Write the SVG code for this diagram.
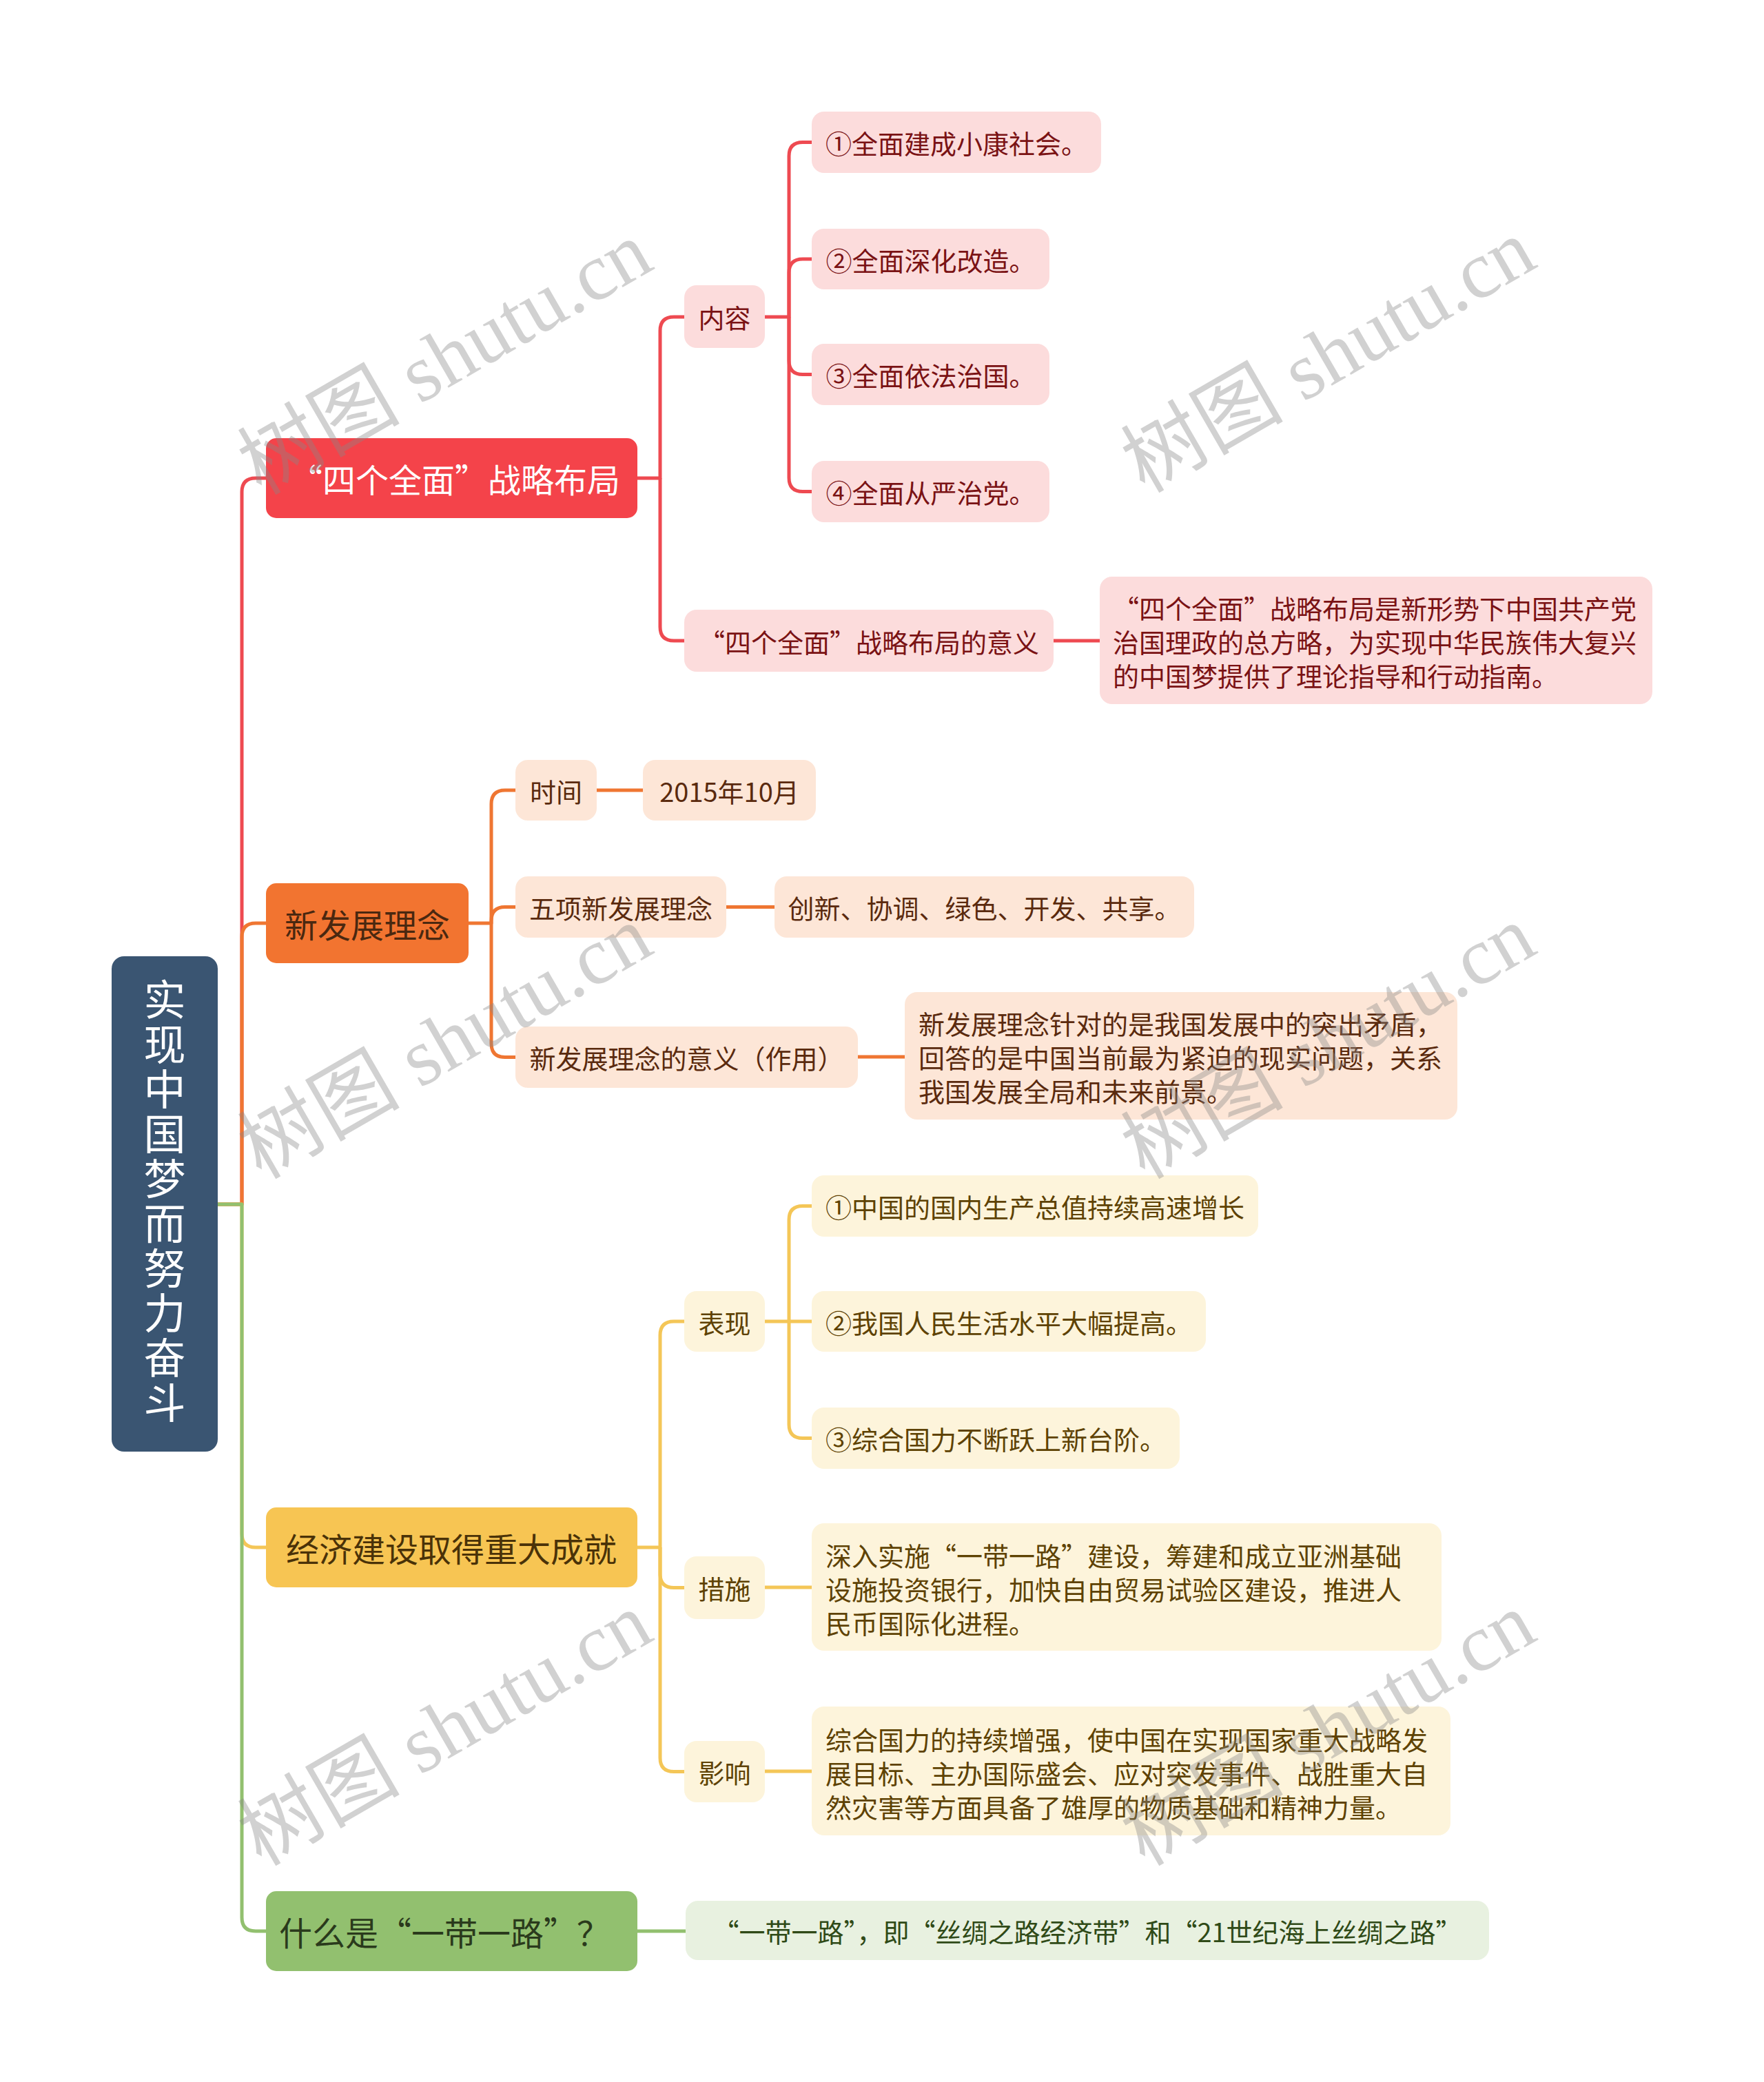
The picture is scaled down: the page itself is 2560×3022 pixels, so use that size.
<svg xmlns="http://www.w3.org/2000/svg" width="2560" height="3022" viewBox="0 0 2560 3022">
<style>
text{font-family:"Noto Sans CJK SC","Noto Sans",sans-serif;dominant-baseline:central}
.c{fill:none;stroke-width:5;stroke-linejoin:round}
.r{stroke:#ee4a51}.o{stroke:#ef7632}.y{stroke:#f4c657}.g{stroke:#92c06f}
.m{font-size:48px;text-anchor:middle}
.s{font-size:38px;text-anchor:middle}
.l{font-size:38px}
.rt{fill:#7a1214}.ot{fill:#5a2a0e}.yt{fill:#5e4203}.gt{fill:#2f4a17}
.rb{fill:#fcdcdc}.ob{fill:#fde6d7}.yb{fill:#fdf4db}.gb{fill:#e8f1e0}
.wm{font-family:"Liberation Serif","Noto Sans CJK SC",serif;font-size:118px;fill:#888;opacity:0.38;text-anchor:middle}
</style>
<rect width="2560" height="3022" fill="#ffffff"/>
<g id="connectors">
<path class="c r" d="M316,1748 H351 V714 Q351,694 371,694 H386"/>
<path class="c o" d="M316,1748 H351 V1360 Q351,1340 371,1340 H386"/>
<path class="c y" d="M316,1748 H351 V2226 Q351,2246 371,2246 H386"/>
<path class="c g" d="M316,1748 H351 V2783 Q351,2803 371,2803 H386"/>
<path class="c r" d="M925,694 H958 V480 Q958,460 978,460 H993"/>
<path class="c r" d="M958,694 V910 Q958,930 978,930 H993"/>
<path class="c r" d="M1110,460 H1145 V226.5 Q1145,206.5 1165,206.5 H1178"/>
<path class="c r" d="M1145,460 V396 Q1145,376 1165,376 H1178"/>
<path class="c r" d="M1145,460 V523.5 Q1145,543.5 1165,543.5 H1178"/>
<path class="c r" d="M1145,460 V693.5 Q1145,713.5 1165,713.5 H1178"/>
<path class="c r" d="M1529,930 H1596"/>
<path class="c o" d="M680,1340 H713 V1167 Q713,1147 733,1147 H748"/>
<path class="c o" d="M713,1340 V1336.5 Q713,1316.5 733,1316.5 H748"/>
<path class="c o" d="M713,1340 V1514.5 Q713,1534.5 733,1534.5 H748"/>
<path class="c o" d="M866,1147 H933"/>
<path class="c o" d="M1054,1316.5 H1124"/>
<path class="c o" d="M1245,1534 H1313"/>
<path class="c y" d="M925,2246 H958 V1938 Q958,1918 978,1918 H993"/>
<path class="c y" d="M958,2246 V2284.5 Q958,2304.5 978,2304.5 H993"/>
<path class="c y" d="M958,2246 V2551.5 Q958,2571.5 978,2571.5 H993"/>
<path class="c y" d="M1110,1918 H1145 V1770.5 Q1145,1750.5 1165,1750.5 H1178"/>
<path class="c y" d="M1145,1918 H1178"/>
<path class="c y" d="M1145,1918 V2067.5 Q1145,2087.5 1165,2087.5 H1178"/>
<path class="c y" d="M1110,2304 H1178"/>
<path class="c y" d="M1110,2571 H1178"/>
<path class="c g" d="M925,2803 H995"/>
</g>
<g id="root">
<rect x="162" y="1388" width="154" height="719" rx="18" fill="#3a5572"/>
<text x="239" y="1745" style="writing-mode:vertical-rl;text-anchor:middle;font-size:61px;letter-spacing:4px;fill:#ffffff">实现中国梦而努力奋斗</text>
</g>
<g id="n1">
<rect x="386" y="636" width="539" height="116" rx="15" fill="#f4434a"/>
<text class="m" x="660" y="694" fill="#ffffff">“四个全面”战略布局</text>
</g>
<g id="n1-1"><rect class="rb" x="993" y="414" width="117" height="91" rx="18"/><text class="s rt" x="1051.5" y="459.5">内容</text></g>
<g id="n1-1-1"><rect class="rb" x="1178" y="162" width="420" height="89" rx="18"/><text class="s rt" x="1388" y="206.5">①全面建成小康社会。</text></g>
<g id="n1-1-2"><rect class="rb" x="1178" y="332" width="345" height="88" rx="18"/><text class="s rt" x="1350.5" y="376">②全面深化改造。</text></g>
<g id="n1-1-3"><rect class="rb" x="1178" y="499" width="345" height="89" rx="18"/><text class="s rt" x="1350.5" y="543.5">③全面依法治国。</text></g>
<g id="n1-1-4"><rect class="rb" x="1178" y="669" width="345" height="89" rx="18"/><text class="s rt" x="1350.5" y="713.5">④全面从严治党。</text></g>
<g id="n1-2"><rect class="rb" x="993" y="885" width="536" height="90" rx="18"/><text class="s rt" x="1261" y="930">“四个全面”战略布局的意义</text></g>
<g id="n1-2-1"><rect class="rb" x="1596" y="837" width="802" height="185" rx="18"/>
<text class="l rt"><tspan x="1615" y="881">“四个全面”战略布局是新形势下中国共产党</tspan><tspan x="1615" y="930">治国理政的总方略，为实现中华民族伟大复兴</tspan><tspan x="1615" y="979">的中国梦提供了理论指导和行动指南。</tspan></text></g>
<g id="n2">
<rect x="386" y="1282" width="294" height="116" rx="15" fill="#f27430"/>
<text class="m" x="533" y="1340" fill="#4a2810">新发展理念</text>
</g>
<g id="n2-1"><rect class="ob" x="748" y="1103" width="118" height="88" rx="18"/><text class="s ot" x="807" y="1147">时间</text></g>
<g id="n2-1-1"><rect class="ob" x="933" y="1103" width="251" height="88" rx="18"/><text class="s ot" x="1058.5" y="1147">2015年10月</text></g>
<g id="n2-2"><rect class="ob" x="748" y="1272" width="306" height="89" rx="18"/><text class="s ot" x="901" y="1316.5">五项新发展理念</text></g>
<g id="n2-2-1"><rect class="ob" x="1124" y="1272" width="609" height="89" rx="18"/><text class="s ot" x="1428.5" y="1316.5">创新、协调、绿色、开发、共享。</text></g>
<g id="n2-3"><rect class="ob" x="748" y="1490" width="497" height="89" rx="18"/><text class="s ot" x="996.5" y="1534.5">新发展理念的意义（作用）</text></g>
<g id="n2-3-1"><rect class="ob" x="1313" y="1440" width="802" height="185" rx="18"/>
<text class="l ot"><tspan x="1333" y="1484">新发展理念针对的是我国发展中的突出矛盾，</tspan><tspan x="1333" y="1533">回答的是中国当前最为紧迫的现实问题，关系</tspan><tspan x="1333" y="1582">我国发展全局和未来前景。</tspan></text></g>
<g id="n3">
<rect x="386" y="2188" width="539" height="116" rx="15" fill="#f7c553"/>
<text class="m" x="655" y="2246" fill="#4a3208">经济建设取得重大成就</text>
</g>
<g id="n3-1"><rect class="yb" x="993" y="1874" width="117" height="88" rx="18"/><text class="s yt" x="1051.5" y="1918">表现</text></g>
<g id="n3-1-1"><rect class="yb" x="1178" y="1706" width="648" height="89" rx="18"/><text class="s yt" x="1502" y="1750.5">①中国的国内生产总值持续高速增长</text></g>
<g id="n3-1-2"><rect class="yb" x="1178" y="1874" width="572" height="88" rx="18"/><text class="s yt" x="1464" y="1918">②我国人民生活水平大幅提高。</text></g>
<g id="n3-1-3"><rect class="yb" x="1178" y="2043" width="534" height="89" rx="18"/><text class="s yt" x="1445" y="2087.5">③综合国力不断跃上新台阶。</text></g>
<g id="n3-2"><rect class="yb" x="993" y="2259" width="117" height="91" rx="18"/><text class="s yt" x="1051.5" y="2304.5">措施</text></g>
<g id="n3-2-1"><rect class="yb" x="1178" y="2211" width="914" height="185" rx="18"/>
<text class="l yt"><tspan x="1198" y="2256">深入实施“一带一路”建设，筹建和成立亚洲基础</tspan><tspan x="1198" y="2305">设施投资银行，加快自由贸易试验区建设，推进人</tspan><tspan x="1198" y="2354">民币国际化进程。</tspan></text></g>
<g id="n3-3"><rect class="yb" x="993" y="2527" width="117" height="89" rx="18"/><text class="s yt" x="1051.5" y="2571.5">影响</text></g>
<g id="n3-3-1"><rect class="yb" x="1178" y="2477" width="927" height="187" rx="18"/>
<text class="l yt"><tspan x="1198" y="2523">综合国力的持续增强，使中国在实现国家重大战略发</tspan><tspan x="1198" y="2572">展目标、主办国际盛会、应对突发事件、战胜重大自</tspan><tspan x="1198" y="2621">然灾害等方面具备了雄厚的物质基础和精神力量。</tspan></text></g>
<g id="n4">
<rect x="386" y="2745" width="539" height="116" rx="15" fill="#92c06f"/>
<text class="m" x="645" y="2803" fill="#2a3a1c">什么是“一带一路”？</text>
</g>
<g id="n4-1"><rect class="gb" x="995" y="2759" width="1166" height="86" rx="18"/><text class="s gt" x="1578" y="2802">“一带一路”，即“丝绸之路经济带”和“21世纪海上丝绸之路”</text></g>
<g id="watermarks">
<text class="wm" transform="translate(646,520) rotate(-30)">树图 shutu.cn</text>
<text class="wm" transform="translate(1928,517) rotate(-30)">树图 shutu.cn</text>
<text class="wm" transform="translate(646,1513) rotate(-30)">树图 shutu.cn</text>
<text class="wm" transform="translate(1928,1513) rotate(-30)">树图 shutu.cn</text>
<text class="wm" transform="translate(646,2510) rotate(-30)">树图 shutu.cn</text>
<text class="wm" transform="translate(1928,2510) rotate(-30)">树图 shutu.cn</text>
</g>
</svg>
